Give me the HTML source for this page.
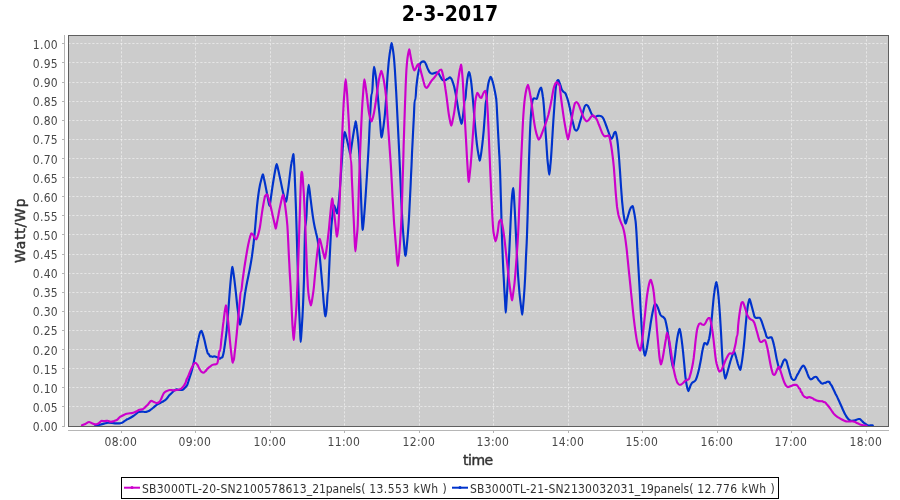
<!DOCTYPE html>
<html><head><meta charset="utf-8"><title>2-3-2017</title>
<style>html,body{margin:0;padding:0;background:#fff;width:900px;height:500px;overflow:hidden}svg{display:block}text{font-family:"DejaVu Sans Condensed","DejaVu Sans","Liberation Sans",sans-serif}.tk{font-size:12px;fill:#484848;letter-spacing:.3px}.lg{font-size:12px;fill:#333;letter-spacing:.23px}.ax{font-family:"DejaVu Sans","Liberation Sans",sans-serif;font-size:14px;fill:#333;stroke:#333;stroke-width:.45px}.tt{font-size:21px;font-weight:bold;fill:#000;letter-spacing:.25px}</style></head><body>
<svg width="900" height="500" viewBox="0 0 900 500">
<rect x="0" y="0" width="900" height="500" fill="#ffffff"/>
<rect x="68" y="35" width="821" height="392" fill="#cccccc"/>
<g stroke="#ffffff" stroke-width="1" stroke-dasharray="2.2,1.8" stroke-dashoffset="-0.3" stroke-opacity="0.5">
<line x1="68" y1="426.5" x2="889" y2="426.5"/>
<line x1="68" y1="406.5" x2="889" y2="406.5"/>
<line x1="68" y1="387.5" x2="889" y2="387.5"/>
<line x1="68" y1="368.5" x2="889" y2="368.5"/>
<line x1="68" y1="349.5" x2="889" y2="349.5"/>
<line x1="68" y1="330.5" x2="889" y2="330.5"/>
<line x1="68" y1="311.5" x2="889" y2="311.5"/>
<line x1="68" y1="292.5" x2="889" y2="292.5"/>
<line x1="68" y1="273.5" x2="889" y2="273.5"/>
<line x1="68" y1="254.5" x2="889" y2="254.5"/>
<line x1="68" y1="234.5" x2="889" y2="234.5"/>
<line x1="68" y1="215.5" x2="889" y2="215.5"/>
<line x1="68" y1="196.5" x2="889" y2="196.5"/>
<line x1="68" y1="177.5" x2="889" y2="177.5"/>
<line x1="68" y1="158.5" x2="889" y2="158.5"/>
<line x1="68" y1="139.5" x2="889" y2="139.5"/>
<line x1="68" y1="120.5" x2="889" y2="120.5"/>
<line x1="68" y1="101.5" x2="889" y2="101.5"/>
<line x1="68" y1="82.5" x2="889" y2="82.5"/>
<line x1="68" y1="62.5" x2="889" y2="62.5"/>
<line x1="68" y1="43.5" x2="889" y2="43.5"/>
<line x1="121.5" y1="35" x2="121.5" y2="427"/>
<line x1="195.5" y1="35" x2="195.5" y2="427"/>
<line x1="270.5" y1="35" x2="270.5" y2="427"/>
<line x1="344.5" y1="35" x2="344.5" y2="427"/>
<line x1="419.5" y1="35" x2="419.5" y2="427"/>
<line x1="493.5" y1="35" x2="493.5" y2="427"/>
<line x1="568.5" y1="35" x2="568.5" y2="427"/>
<line x1="642.5" y1="35" x2="642.5" y2="427"/>
<line x1="717.5" y1="35" x2="717.5" y2="427"/>
<line x1="791.5" y1="35" x2="791.5" y2="427"/>
<line x1="866.5" y1="35" x2="866.5" y2="427"/>
</g>
<clipPath id="cp"><rect x="68" y="35" width="821" height="392"/></clipPath>
<g clip-path="url(#cp)" fill="none" stroke-width="2.15" stroke-linejoin="round" stroke-linecap="round">
<path stroke="#0033cc" d="M95.3,425.7C96.9,425.4 98.4,425.1 100.0,424.7C101.3,424.3 102.7,423.9 104.0,423.6C105.3,423.3 106.7,422.7 108.0,422.7C109.3,422.7 110.7,422.8 112.0,422.9C113.3,423.0 114.7,423.3 116.0,423.3C117.1,423.3 118.2,423.3 119.3,423.3C120.2,423.3 121.1,423.0 122.0,422.7C122.9,422.3 123.8,421.5 124.7,420.9C125.6,420.4 126.4,419.8 127.3,419.3C128.2,418.8 129.1,418.5 130.0,418.0C131.1,417.4 132.2,416.7 133.3,416.0C134.2,415.4 135.1,414.7 136.0,414.0C136.9,413.3 137.8,412.2 138.7,412.0C139.8,411.8 140.9,411.6 142.0,411.6C143.1,411.6 144.2,412.0 145.3,412.0C146.2,412.0 147.1,411.6 148.0,411.3C148.9,411.0 149.8,410.3 150.7,409.7C151.8,409.0 152.9,408.0 154.0,407.1C155.1,406.2 156.2,405.1 157.3,404.4C158.4,403.7 159.6,403.2 160.7,402.7C161.8,402.1 162.9,401.7 164.0,400.9C164.9,400.4 165.8,399.6 166.7,398.7C167.6,397.8 168.4,396.3 169.3,395.3C170.2,394.3 171.1,393.5 172.0,392.7C172.9,391.8 173.8,390.8 174.7,390.3C175.3,389.9 176.0,389.3 176.7,389.3C177.6,389.3 178.4,390.0 179.3,390.0C180.2,390.0 181.1,390.0 182.0,390.0C182.9,390.0 183.8,388.8 184.7,388.0C185.6,387.2 186.4,386.4 187.3,384.7C187.6,384.1 187.9,382.9 188.2,382.0C188.9,379.7 189.7,377.7 190.4,375.3C191.0,373.3 191.7,371.2 192.3,368.7C193.1,365.7 193.8,362.0 194.6,358.3C195.2,355.2 195.9,351.7 196.5,348.3C197.1,345.6 197.6,342.6 198.2,340.0C198.3,339.3 198.4,338.6 198.6,338.0C199.0,336.3 199.4,334.7 199.8,333.3C200.0,332.8 200.1,332.2 200.3,332.0C200.7,331.4 201.1,330.9 201.5,330.9C201.8,330.9 202.1,332.2 202.4,333.0C203.1,334.9 203.8,337.6 204.5,340.3C205.1,342.8 205.8,346.1 206.4,348.7C206.5,348.9 206.5,349.1 206.6,349.3C207.1,351.0 207.5,353.4 208.0,353.7C208.2,353.9 208.4,353.9 208.7,354.0C209.1,354.3 209.6,356.4 210.0,356.4C210.4,356.4 210.9,356.3 211.3,356.3C211.8,356.3 212.2,356.9 212.7,356.9C213.1,356.9 213.6,356.3 214.0,356.3C214.7,356.3 215.3,356.8 216.0,356.9C216.2,357.0 216.4,357.0 216.7,357.1C217.3,357.2 218.0,357.4 218.7,357.7C219.1,357.9 219.6,358.7 220.0,358.7C220.4,358.7 220.9,357.8 221.3,357.6C221.7,357.5 222.0,357.5 222.4,357.3C222.5,357.3 222.7,356.5 222.8,356.0C223.2,354.7 223.6,352.8 224.0,350.7C224.5,347.4 225.1,343.0 225.7,338.3C226.0,335.9 226.4,333.1 226.7,330.0C226.8,328.3 227.0,326.3 227.2,324.3C227.7,318.6 228.2,311.7 228.7,305.3C229.0,300.9 229.4,296.2 229.7,292.0C230.1,287.5 230.4,283.0 230.8,279.3C231.2,275.3 231.6,271.3 232.0,268.7C232.2,267.9 232.3,266.7 232.4,266.7C232.6,266.7 232.8,268.7 233.0,270.0C233.5,273.0 234.0,276.7 234.5,280.7C234.9,284.0 235.4,288.1 235.8,292.0C236.3,296.3 236.7,301.3 237.2,305.3C237.8,310.3 238.3,315.0 238.9,318.7C239.3,321.0 239.6,324.7 240.0,324.7C240.4,324.7 240.8,321.8 241.1,320.0C241.7,317.1 242.4,313.4 243.0,309.3C243.6,305.3 244.2,299.8 244.8,295.3C245.0,294.2 245.1,293.0 245.3,292.0C245.9,288.2 246.5,285.1 247.1,282.0C247.6,279.6 248.0,277.6 248.5,275.3C249.0,272.7 249.6,270.3 250.1,267.3C250.7,264.2 251.3,260.6 251.9,256.7C252.3,253.5 252.8,249.9 253.3,246.0C253.6,243.1 254.0,240.1 254.3,236.7C254.6,233.4 255.0,229.6 255.3,226.0C255.9,219.2 256.5,211.0 257.1,205.3C257.8,199.1 258.5,193.3 259.2,189.3C259.9,184.8 260.7,181.4 261.5,178.7C262.0,177.0 262.4,174.4 262.9,174.4C263.3,174.4 263.7,177.1 264.0,178.7C264.9,182.4 265.8,187.5 266.7,192.0C267.4,195.5 268.0,199.7 268.7,202.7C269.0,203.9 269.3,206.0 269.6,206.0C269.9,206.0 270.3,202.1 270.6,200.0C271.3,195.0 272.1,188.9 272.9,184.0C273.7,178.7 274.6,173.3 275.4,169.3C275.8,167.3 276.2,164.0 276.7,164.0C277.1,164.0 277.6,167.4 278.1,169.3C279.0,172.9 279.8,177.3 280.7,181.3C281.5,185.1 282.3,189.4 283.1,192.7C283.8,195.4 284.5,198.1 285.2,200.0C285.4,200.8 285.7,202.0 286.0,202.0C286.3,202.0 286.5,200.0 286.8,198.7C287.3,195.7 287.9,190.9 288.5,186.7C289.4,179.7 290.4,169.7 291.3,164.0C291.5,162.4 291.8,161.2 292.1,160.0C292.3,159.0 292.5,158.3 292.7,157.3C292.9,156.3 293.1,154.0 293.3,154.0C293.4,154.0 293.4,154.4 293.5,154.7C293.7,156.1 293.9,160.6 294.2,164.7C294.8,175.2 295.4,192.9 296.0,209.7C296.2,216.7 296.4,224.7 296.7,232.7C297.2,249.4 297.7,269.3 298.3,285.5C298.5,292.2 298.7,298.7 298.9,304.3C299.3,314.5 299.7,323.5 300.1,331.3C300.3,335.3 300.5,342.0 300.7,342.0C300.9,342.0 301.2,335.7 301.5,332.0C301.8,327.3 302.1,322.1 302.5,316.0C302.8,310.3 303.1,304.2 303.4,296.0C303.6,291.4 303.8,285.7 304.0,279.0C304.2,268.6 304.5,252.5 304.8,239.3C304.9,234.9 305.0,226.0 305.1,226.0C305.3,226.0 305.5,226.0 305.7,226.0C306.3,226.0 306.8,205.5 307.3,198.7C307.8,192.9 308.2,184.7 308.7,184.7C309.2,184.7 309.8,193.1 310.4,197.3C311.2,203.9 312.1,211.7 313.0,217.3C313.5,220.6 314.0,223.6 314.5,226.0C315.0,228.6 315.5,230.3 316.0,232.7C316.5,234.8 317.0,236.7 317.5,239.3C318.1,242.8 318.7,247.4 319.3,252.7C319.9,257.4 320.5,263.9 321.0,270.0C321.5,275.1 321.9,280.4 322.4,286.0C322.6,287.9 322.7,290.0 322.9,292.0C323.2,295.5 323.4,299.6 323.7,302.7C324.1,306.7 324.5,310.8 324.8,313.3C325.0,314.5 325.2,316.3 325.3,316.3C325.5,316.3 325.6,315.8 325.7,315.3C326.1,314.0 326.5,309.9 326.9,305.3C327.2,302.3 327.5,292.0 327.7,292.0C327.9,292.0 328.1,292.0 328.3,292.0C328.4,292.0 328.6,283.3 328.7,279.3C329.0,272.2 329.3,265.5 329.6,259.3C330.1,249.7 330.5,240.1 331.0,232.7C331.1,230.2 331.3,227.8 331.4,226.0C331.9,220.1 332.4,215.5 332.9,212.0C333.3,209.3 333.6,205.3 334.0,205.3C334.5,205.3 335.1,208.0 335.6,209.3C336.1,210.6 336.6,213.3 337.1,213.3C337.3,213.3 337.6,211.0 337.8,209.3C338.3,206.4 338.7,202.0 339.2,197.3C339.7,191.9 340.2,184.5 340.7,177.3C341.1,171.9 341.5,165.7 341.9,160.0C342.2,155.7 342.5,150.8 342.8,147.3C343.2,142.5 343.6,138.0 344.0,135.3C344.2,133.9 344.4,132.0 344.7,132.0C344.8,132.0 345.0,132.5 345.1,132.9C345.8,134.6 346.5,137.9 347.2,140.7C347.9,143.5 348.6,147.1 349.3,150.0C349.6,151.4 349.9,154.0 350.3,154.0C350.6,154.0 351.0,149.6 351.4,147.3C352.1,143.1 352.7,138.2 353.4,134.0C353.9,130.7 354.5,127.3 355.0,124.7C355.2,123.4 355.5,121.3 355.7,121.3C356.0,121.3 356.3,124.2 356.5,126.0C357.0,128.9 357.4,132.5 357.8,136.7C358.2,140.4 358.6,144.5 359.0,150.0C359.2,152.7 359.4,156.2 359.6,160.0C360.5,177.6 361.4,213.3 362.3,226.0C362.4,227.7 362.5,230.0 362.7,230.0C362.9,230.0 363.0,227.6 363.2,226.0C364.8,212.4 366.3,184.7 367.9,160.0C368.1,156.1 368.4,151.9 368.6,147.3C368.9,142.9 369.1,137.7 369.3,132.7C369.6,126.6 369.9,119.7 370.2,114.0C370.5,108.9 370.7,103.8 371.0,100.0C371.1,97.7 371.3,94.0 371.5,94.0C371.6,94.0 371.8,94.0 372.0,94.0C372.4,94.0 372.8,79.1 373.3,74.0C373.5,71.1 373.8,66.7 374.0,66.7C374.3,66.7 374.5,68.7 374.8,70.0C375.3,72.3 375.7,75.6 376.2,79.3C376.6,82.6 377.0,87.1 377.4,91.3C377.5,93.1 377.7,95.2 377.9,97.0C378.2,100.6 378.5,103.9 378.8,107.3C379.0,109.3 379.2,111.2 379.4,113.3C379.6,115.6 379.8,118.2 380.0,120.7C380.3,124.5 380.6,129.2 380.9,132.7C381.0,134.4 381.2,137.3 381.3,137.3C381.5,137.3 381.6,137.3 381.7,137.3C382.1,137.3 382.5,132.9 382.9,130.3C383.4,127.5 383.8,124.4 384.2,120.7C384.5,118.6 384.7,116.1 385.0,113.3C385.2,110.5 385.5,107.1 385.7,103.7C386.0,100.6 386.2,97.2 386.4,93.8C386.9,86.9 387.3,78.7 387.8,72.7C388.2,67.6 388.6,62.8 389.0,59.3C389.5,54.9 390.0,51.5 390.5,48.7C390.8,46.5 391.2,43.1 391.6,43.1C391.8,43.1 392.1,44.8 392.3,46.0C392.8,48.2 393.2,51.3 393.7,55.3C394.1,58.9 394.5,64.3 394.9,70.0C395.3,76.2 395.7,84.4 396.2,92.3C396.5,97.9 396.8,104.0 397.1,110.0C397.7,121.1 398.2,132.3 398.8,144.0C399.1,151.1 399.5,158.4 399.8,166.0C400.1,172.4 400.4,179.5 400.7,186.0C401.1,196.2 401.6,207.7 402.1,216.0C402.2,218.7 402.4,221.1 402.5,223.3C402.7,226.5 402.9,229.1 403.1,232.0C403.3,234.5 403.5,237.1 403.7,239.3C404.1,244.2 404.5,249.4 404.9,252.7C405.0,254.0 405.2,256.0 405.3,256.0C405.5,256.0 405.7,254.9 405.9,254.0C406.4,251.0 407.0,243.8 407.6,237.0C408.0,232.1 408.5,226.0 408.9,219.3C409.0,217.7 409.1,215.9 409.2,214.0C409.7,204.8 410.2,194.0 410.7,183.3C410.9,177.7 411.2,171.7 411.5,166.0C411.7,161.8 411.8,157.4 412.0,153.3C412.4,146.4 412.7,139.9 413.0,133.3C413.3,127.5 413.6,121.9 413.9,116.0C414.2,110.8 414.4,100.0 414.7,100.0C414.9,100.0 415.1,100.0 415.3,100.0C415.7,100.0 416.0,90.8 416.3,87.3C416.8,83.1 417.2,79.5 417.6,76.7C418.1,73.4 418.6,70.9 419.1,68.7C419.5,66.6 420.0,64.1 420.4,63.3C420.9,62.5 421.5,61.9 422.0,61.7C422.7,61.5 423.3,61.3 424.0,61.3C424.6,61.3 425.2,62.6 425.7,63.6C426.5,64.9 427.2,67.8 428.0,69.3C428.7,70.7 429.3,72.1 430.0,72.7C430.7,73.2 431.3,73.7 432.0,73.7C432.9,73.7 433.8,73.2 434.7,72.9C435.3,72.7 436.0,72.3 436.7,72.3C437.2,72.3 437.7,72.6 438.3,72.9C438.8,73.3 439.4,75.0 440.0,76.0C440.5,76.9 441.1,77.8 441.6,78.7C441.7,78.9 441.9,79.2 442.0,79.3C442.4,79.8 442.9,80.1 443.3,80.3C443.6,80.3 443.8,80.4 444.0,80.4C444.4,80.4 444.9,80.0 445.3,80.0C445.6,80.0 445.8,80.0 446.0,80.0C446.4,80.0 446.9,78.7 447.3,78.7C447.6,78.7 447.8,78.7 448.0,78.7C448.4,78.7 448.9,78.0 449.3,77.7C449.6,77.6 449.8,77.3 450.0,77.3C450.4,77.3 450.9,78.0 451.3,78.7C451.7,79.2 452.1,80.3 452.5,81.3C453.1,82.8 453.6,84.5 454.2,86.7C454.6,88.5 455.1,90.9 455.6,93.3C456.0,95.3 456.3,97.7 456.7,100.0C457.2,102.6 457.6,105.5 458.0,108.0C458.5,110.8 459.0,113.7 459.5,116.0C460.0,118.5 460.6,121.0 461.1,122.7C461.3,123.2 461.4,124.0 461.6,124.0C461.8,124.0 462.0,122.4 462.2,121.3C462.7,118.7 463.1,114.8 463.6,110.7C464.0,107.6 464.3,100.0 464.7,100.0C464.9,100.0 465.1,100.0 465.3,100.0C465.6,100.0 465.8,93.9 466.0,91.3C466.5,86.7 466.9,82.2 467.3,79.3C467.8,76.5 468.2,73.7 468.7,72.7C468.8,72.4 468.9,72.0 469.1,72.0C469.3,72.0 469.5,73.1 469.8,74.0C470.2,75.5 470.6,77.9 471.0,80.7C471.5,84.1 472.0,89.6 472.5,95.0C472.8,98.1 473.1,101.8 473.4,105.3C473.9,111.0 474.3,117.3 474.8,122.7C475.3,127.9 475.7,133.1 476.2,137.3C476.6,141.9 477.1,146.0 477.6,149.3C478.1,152.4 478.5,155.1 479.0,157.3C479.2,158.6 479.5,160.7 479.7,160.7C480.0,160.7 480.2,158.7 480.5,157.3C481.1,154.4 481.6,150.0 482.2,145.3C482.7,141.3 483.2,136.1 483.7,130.7C484.1,125.9 484.5,120.3 484.9,114.7C485.3,110.1 485.6,100.0 486.0,100.0C486.1,100.0 486.3,100.0 486.4,100.0C486.7,100.0 486.9,93.6 487.2,91.3C487.6,88.1 488.0,85.2 488.4,83.3C488.8,81.3 489.2,79.7 489.7,78.7C490.0,77.9 490.3,76.9 490.7,76.9C491.0,76.9 491.3,77.9 491.7,78.7C492.2,79.7 492.7,81.5 493.1,83.3C493.6,85.1 494.1,87.6 494.6,90.0C495.1,92.6 495.6,94.8 496.1,98.3C496.2,98.8 496.3,99.3 496.3,100.0C496.6,102.7 496.9,108.6 497.1,113.3C497.4,118.7 497.7,125.1 498.0,130.7C498.4,138.5 498.8,146.0 499.2,153.3C499.4,155.7 499.5,157.7 499.6,160.3C499.8,164.4 500.0,169.0 500.2,174.7C500.6,185.4 501.0,203.4 501.4,217.0C501.5,222.3 501.7,227.7 501.8,232.3C502.2,242.2 502.5,250.9 502.8,258.7C503.0,263.6 503.2,267.9 503.4,272.0C503.7,277.6 504.0,282.4 504.2,287.3C504.5,292.4 504.8,297.2 505.1,302.0C505.3,305.6 505.5,312.7 505.7,312.7C506.0,312.7 506.2,305.6 506.5,302.0C506.8,297.2 507.1,292.4 507.4,287.3C507.8,281.6 508.1,275.9 508.5,269.3C508.8,263.3 509.1,256.5 509.4,249.3C509.8,241.7 510.1,231.7 510.5,224.3C510.9,215.0 511.4,204.6 511.8,199.3C512.1,195.2 512.5,191.8 512.8,190.0C513.0,189.1 513.2,188.0 513.3,188.0C513.5,188.0 513.7,192.6 513.9,195.3C514.4,202.1 514.8,211.4 515.3,220.3C515.5,225.3 515.8,231.1 516.0,236.3C516.6,247.2 517.1,259.0 517.6,268.0C518.0,274.8 518.5,281.0 518.9,286.0C519.3,291.8 519.8,296.6 520.3,300.7C520.7,304.3 521.1,307.3 521.5,310.0C521.7,311.7 522.0,314.7 522.3,314.7C522.5,314.7 522.8,310.1 523.0,307.3C523.5,302.8 523.9,297.7 524.3,291.3C524.6,287.6 524.8,283.0 525.1,278.0C525.4,272.4 525.7,265.0 525.9,258.7C526.2,253.2 526.4,248.3 526.7,242.7C526.8,239.3 527.0,236.1 527.1,232.0C527.3,226.7 527.5,219.7 527.7,212.7C528.0,202.7 528.2,189.6 528.5,179.3C528.7,172.6 528.8,165.9 529.0,160.3C529.5,146.2 529.9,132.5 530.4,124.0C530.7,118.4 531.0,113.9 531.3,110.7C531.6,106.6 532.0,103.4 532.4,101.3C532.5,100.8 532.6,100.2 532.7,100.0C533.1,99.0 533.5,98.3 533.9,98.3C534.4,98.3 534.8,98.4 535.3,98.5C535.6,98.5 536.0,98.6 536.3,98.7C536.5,98.7 536.7,98.9 536.9,98.9C537.1,98.9 537.3,97.4 537.5,96.7C537.8,95.6 538.1,94.6 538.4,93.7C538.9,92.1 539.4,89.8 539.9,89.0C540.3,88.3 540.7,87.5 541.1,87.5C541.3,87.5 541.4,88.6 541.6,89.3C542.1,91.1 542.5,93.9 542.9,97.0C543.1,97.9 543.2,98.8 543.3,100.0C543.5,101.8 543.7,104.2 543.9,106.7C544.4,113.6 545.0,122.5 545.5,130.7C545.9,135.9 546.2,141.6 546.6,146.7C546.9,151.3 547.2,156.4 547.5,160.0C547.7,162.3 547.9,164.2 548.2,166.0C548.5,169.3 548.9,174.7 549.3,174.7C549.7,174.7 550.1,168.0 550.5,164.0C550.7,162.3 550.8,160.5 551.0,158.3C551.5,151.8 552.0,142.6 552.5,134.7C552.8,129.8 553.1,124.7 553.4,120.0C553.8,113.9 554.2,108.0 554.6,102.7C554.7,100.4 554.9,98.3 555.1,96.3C555.3,92.9 555.6,88.9 555.9,86.7C556.0,86.4 556.0,86.2 556.0,86.0C556.4,84.0 556.8,82.6 557.1,81.3C557.2,81.1 557.3,80.8 557.3,80.7C557.6,80.3 557.8,80.0 558.0,80.0C558.1,80.0 558.3,80.0 558.4,80.0C558.7,80.0 558.9,81.3 559.2,82.0C559.7,83.3 560.2,84.6 560.6,86.0C561.1,87.3 561.5,89.2 562.0,90.0C562.6,91.0 563.2,91.4 563.7,92.0C564.3,92.5 564.8,92.7 565.3,93.3C565.7,93.8 566.1,95.0 566.5,96.0C567.0,97.5 567.6,99.3 568.2,101.3C568.5,102.5 568.9,103.9 569.2,105.3C569.7,107.4 570.2,109.7 570.6,112.0C571.1,114.2 571.6,116.6 572.0,118.7C572.6,121.0 573.1,123.3 573.6,125.3C573.9,126.8 574.3,128.8 574.7,129.3C575.2,130.1 575.7,130.7 576.3,130.7C576.8,130.7 577.4,129.7 578.0,128.7C578.5,127.8 579.0,125.6 579.4,124.0C580.1,121.8 580.8,119.5 581.4,117.3C582.1,115.1 582.8,112.8 583.4,110.7C583.9,109.1 584.4,106.7 584.9,106.0C585.4,105.3 585.9,104.7 586.4,104.7C586.9,104.7 587.5,105.4 588.0,106.0C588.5,106.6 589.1,108.2 589.6,109.3C590.2,110.6 590.8,112.2 591.3,113.3C591.9,114.4 592.4,115.6 592.9,116.0C593.6,116.5 594.3,117.1 594.9,117.1C595.6,117.1 596.4,116.1 597.1,116.0C597.8,115.9 598.6,115.7 599.3,115.7C600.0,115.7 600.7,116.0 601.3,116.3C602.0,116.6 602.7,117.4 603.3,118.4C603.9,119.3 604.5,121.2 605.1,122.7C605.8,124.6 606.6,126.6 607.3,128.7C607.9,130.4 608.6,132.3 609.2,134.0C609.7,135.4 610.2,137.5 610.7,138.0C611.0,138.3 611.4,138.7 611.7,138.7C612.2,138.7 612.6,137.0 613.1,136.0C613.5,135.0 614.0,133.2 614.4,132.7C614.8,132.2 615.1,131.7 615.5,131.7C615.7,131.7 615.9,133.1 616.2,134.0C616.6,135.5 616.9,137.5 617.3,140.0C617.6,142.3 618.0,145.7 618.3,149.3C618.6,152.4 618.9,156.2 619.2,160.0C619.4,163.0 619.6,166.4 619.9,169.7C620.3,175.6 620.7,182.3 621.1,188.0C621.5,192.7 621.8,197.6 622.1,201.3C622.6,206.0 623.0,210.3 623.4,213.3C623.9,216.4 624.3,218.8 624.7,220.7C625.0,221.9 625.3,223.7 625.6,223.7C626.0,223.7 626.4,221.3 626.8,220.0C627.5,217.9 628.2,215.5 628.8,213.3C629.3,211.8 629.8,209.6 630.3,208.7C630.7,207.8 631.2,207.1 631.6,206.7C632.0,206.4 632.3,206.0 632.7,206.0C632.9,206.0 633.1,207.6 633.4,208.7C633.8,210.3 634.2,212.4 634.6,214.7C634.9,216.6 635.2,218.6 635.6,221.3C635.7,222.6 635.9,224.1 636.0,226.0C636.2,228.7 636.5,232.8 636.7,236.7C636.9,240.3 637.1,244.7 637.3,248.7C637.6,252.7 637.8,256.8 638.0,260.7C638.2,264.8 638.5,268.7 638.7,272.7C638.9,276.2 639.1,279.6 639.3,283.3C639.5,286.1 639.6,289.0 639.8,292.0C640.0,296.2 640.2,301.0 640.4,305.3C640.7,310.8 641.0,316.6 641.3,321.3C641.6,326.7 641.9,332.1 642.2,336.0C642.6,340.9 642.9,345.2 643.3,348.0C643.7,350.6 644.0,352.6 644.4,354.0C644.6,354.7 644.8,355.7 644.9,355.7C645.2,355.7 645.4,354.3 645.7,353.3C646.1,351.9 646.5,350.0 646.9,348.0C647.3,345.7 647.8,342.8 648.2,340.0C648.7,337.1 649.1,333.8 649.6,330.7C650.1,327.5 650.5,324.2 651.0,321.3C651.5,318.2 652.0,315.1 652.5,312.7C653.1,310.1 653.6,307.7 654.1,306.0C654.4,305.2 654.7,304.0 654.9,304.0C655.4,304.0 655.8,304.3 656.3,304.7C656.8,305.0 657.2,306.3 657.7,307.3C658.2,308.4 658.7,310.0 659.2,311.3C659.6,312.5 660.0,314.0 660.4,314.7C660.9,315.5 661.5,316.0 662.0,316.4C662.5,316.8 663.1,316.9 663.6,317.3C664.1,317.7 664.6,318.3 665.1,319.3C665.4,320.0 665.7,321.9 666.1,323.3C666.4,324.9 666.8,326.6 667.2,328.7C667.5,330.8 667.9,333.3 668.3,336.0C668.6,338.4 669.0,341.3 669.3,344.0C669.8,347.6 670.2,351.6 670.7,355.0C670.8,356.1 671.0,357.1 671.1,358.0C671.5,360.3 671.8,362.3 672.2,364.0C672.5,365.4 672.8,367.6 673.1,367.6C673.5,367.6 673.9,363.2 674.3,360.7C674.6,358.7 674.9,356.6 675.2,354.3C675.6,350.7 676.1,346.1 676.6,342.7C677.0,339.7 677.5,336.7 677.9,334.7C678.3,332.8 678.7,331.1 679.0,330.0C679.2,329.5 679.4,328.7 679.6,328.7C679.8,328.7 680.0,330.3 680.3,331.3C680.7,333.2 681.1,335.9 681.5,338.7C682.0,342.5 682.6,347.4 683.1,352.3C683.2,352.7 683.2,353.0 683.2,353.3C683.5,356.2 683.8,359.6 684.1,362.7C684.6,367.4 685.0,373.0 685.4,376.7C685.8,379.9 686.2,382.7 686.6,384.7C686.9,386.7 687.3,388.2 687.7,389.3C687.9,390.0 688.2,391.1 688.4,391.1C688.7,391.1 689.1,389.5 689.4,388.7C689.9,387.4 690.4,385.6 690.9,384.7C691.4,383.8 691.8,383.0 692.3,382.7C692.8,382.2 693.4,382.1 694.0,381.7C694.6,381.3 695.2,380.9 695.7,380.0C696.1,379.4 696.6,377.9 697.0,376.7C697.5,375.1 698.0,373.3 698.5,371.3C699.0,369.4 699.5,367.1 699.9,364.7C700.4,362.6 700.8,360.3 701.2,358.0C701.6,355.6 702.0,352.8 702.4,350.7C702.9,348.4 703.4,346.1 703.8,344.7C704.0,344.0 704.2,343.1 704.4,343.1C704.8,343.1 705.3,343.2 705.7,343.3C706.2,343.5 706.6,344.7 707.1,344.7C707.3,344.7 707.5,343.9 707.7,343.3C708.2,342.1 708.6,340.6 709.1,338.7C709.3,337.8 709.5,336.9 709.7,335.7C710.1,333.5 710.5,330.5 710.9,327.3C711.2,324.3 711.6,320.5 711.9,316.7C712.3,312.9 712.6,308.3 713.0,304.7C713.4,300.3 713.8,295.8 714.3,292.7C714.7,289.4 715.1,286.6 715.6,284.7C715.8,283.6 716.0,282.0 716.3,282.0C716.4,282.0 716.6,282.7 716.7,283.3C717.1,284.9 717.6,288.0 718.0,291.3C718.4,294.9 718.9,300.4 719.3,306.0C719.6,310.2 720.0,315.3 720.3,320.7C720.6,325.3 720.9,330.8 721.2,336.0C721.6,343.2 722.0,352.6 722.4,358.0C722.6,361.3 722.9,364.0 723.1,366.0C723.5,369.4 723.9,371.8 724.3,374.0C724.7,375.8 725.0,378.7 725.3,378.7C725.7,378.7 726.0,377.0 726.3,376.0C726.9,374.2 727.4,372.1 728.0,370.0C728.5,368.3 729.0,366.4 729.4,364.7C729.9,363.1 730.3,361.5 730.8,360.0C730.9,359.5 731.1,359.1 731.2,358.7C731.8,356.8 732.5,354.9 733.1,353.3C733.4,352.6 733.7,351.3 734.0,351.3C734.3,351.3 734.6,352.6 734.9,353.3C735.4,354.8 736.0,356.7 736.5,358.7C736.9,360.1 737.3,361.9 737.7,363.3C737.8,363.6 737.9,363.8 737.9,364.0C738.3,365.2 738.7,366.3 739.1,367.3C739.2,367.6 739.2,367.8 739.3,368.0C739.7,368.7 740.0,369.9 740.3,369.9C740.7,369.9 741.0,367.1 741.3,365.3C741.8,362.8 742.3,359.6 742.7,356.0C743.1,353.0 743.5,349.3 743.9,345.3C744.2,342.5 744.5,339.2 744.8,336.0C745.1,332.8 745.3,329.2 745.6,326.0C746.0,322.3 746.3,318.4 746.6,315.3C747.1,311.2 747.6,307.1 748.0,304.7C748.4,302.7 748.8,301.0 749.1,300.0C749.3,299.6 749.4,299.1 749.6,299.1C749.9,299.1 750.1,300.5 750.4,301.3C750.9,303.1 751.4,305.3 752.0,307.3C752.5,309.3 753.1,311.5 753.6,313.3C753.9,314.6 754.3,316.5 754.7,316.9C755.2,317.6 755.7,318.0 756.3,318.0C756.8,318.0 757.4,317.7 758.0,317.7C758.5,317.7 759.1,317.7 759.6,317.7C760.0,317.7 760.5,318.8 760.9,319.6C761.4,320.4 761.8,322.1 762.3,323.3C762.9,325.1 763.5,326.9 764.0,328.7C764.6,330.2 765.1,331.8 765.6,333.3C765.9,334.5 766.3,336.4 766.7,336.8C767.2,337.5 767.8,338.0 768.4,338.0C768.9,338.0 769.5,337.3 770.0,337.3C770.5,337.3 771.1,337.3 771.6,337.3C771.9,337.3 772.1,338.5 772.4,339.3C773.0,340.9 773.5,343.0 774.0,345.3C774.6,347.6 775.1,350.7 775.6,353.3C776.1,356.0 776.6,359.1 777.2,361.3C777.7,363.6 778.2,365.8 778.8,367.3C779.1,368.1 779.3,369.3 779.6,369.3C780.0,369.3 780.5,368.2 780.9,367.3C781.4,366.5 781.8,365.1 782.3,364.0C782.7,362.9 783.2,361.3 783.6,360.7C784.0,360.0 784.5,359.3 784.9,359.3C785.4,359.3 785.8,360.0 786.3,360.7C786.7,361.3 787.1,363.3 787.5,364.7C788.0,366.4 788.5,368.3 789.0,370.0C789.5,371.8 790.0,373.7 790.5,375.3C790.9,376.4 791.2,377.9 791.6,378.4C792.2,379.2 792.8,380.0 793.3,380.0C793.9,380.0 794.5,379.7 795.1,379.3C795.6,379.0 796.1,377.0 796.7,376.0C797.2,375.0 797.7,374.3 798.3,373.3C798.8,372.3 799.4,371.0 800.0,370.0C800.5,369.0 801.1,368.1 801.6,367.3C802.1,366.7 802.6,365.6 803.1,365.6C803.5,365.6 804.0,366.0 804.4,366.4C804.8,366.8 805.3,368.3 805.7,369.3C806.3,370.6 806.8,372.0 807.3,373.3C807.9,374.7 808.4,376.5 808.9,377.3C809.5,378.3 810.1,379.3 810.7,379.3C811.2,379.3 811.8,379.0 812.4,378.7C812.9,378.4 813.5,377.6 814.0,377.3C814.6,377.0 815.2,376.7 815.7,376.7C816.3,376.7 816.8,377.4 817.3,378.0C817.7,378.4 818.1,379.5 818.5,380.0C818.7,380.3 818.9,380.5 819.1,380.7C819.5,381.2 820.0,381.5 820.5,382.2C820.6,382.4 820.8,382.8 820.9,382.9C821.6,383.3 822.2,383.6 822.8,383.6C823.4,383.6 824.1,382.7 824.7,382.7C824.9,382.7 825.2,382.8 825.5,382.8C825.9,382.8 826.3,382.2 826.7,382.0C827.1,381.8 827.6,381.5 828.0,381.5C828.1,381.5 828.3,381.7 828.4,381.7C828.8,381.9 829.1,381.8 829.5,382.0C829.7,382.1 829.8,383.0 830.0,383.3C830.5,384.3 831.0,384.6 831.5,385.4C832.2,386.5 832.8,388.0 833.4,389.2C834.1,390.6 834.8,392.1 835.4,393.5C836.1,394.9 836.8,396.0 837.4,397.4C838.1,398.9 838.8,400.5 839.5,402.0C840.2,403.5 840.8,405.0 841.5,406.5C842.2,408.0 842.8,409.6 843.5,411.0C844.2,412.4 844.8,413.9 845.5,415.0C846.2,416.1 846.8,417.2 847.5,418.0C848.2,418.8 848.8,419.6 849.5,420.0C850.2,420.4 850.8,420.8 851.5,420.8C852.3,420.8 853.2,420.6 854.0,420.5C854.8,420.4 855.7,420.1 856.5,419.8C857.2,419.6 857.8,419.0 858.5,419.0C858.9,419.0 859.4,419.0 859.8,419.0C860.4,419.0 860.9,420.0 861.5,420.5C862.2,421.1 862.8,421.9 863.5,422.5C864.2,423.1 864.8,423.6 865.5,424.0C866.2,424.4 866.8,425.0 867.5,425.2C868.2,425.4 868.8,425.5 869.5,425.5C870.2,425.5 870.8,425.2 871.5,425.2C871.9,425.2 872.4,425.4 872.8,425.5"/>
<path stroke="#cc00cc" d="M82.0,425.3C83.1,424.9 84.2,424.5 85.3,424.0C86.6,423.4 87.8,422.0 89.1,422.0C90.0,422.0 91.0,423.0 92.0,423.3C93.1,423.8 94.2,424.4 95.3,424.4C96.4,424.4 97.6,423.8 98.7,423.3C99.6,422.9 100.6,420.9 101.6,420.9C102.6,420.9 103.6,421.1 104.7,421.1C105.6,421.1 106.6,420.7 107.6,420.7C108.6,420.7 109.6,421.7 110.7,421.7C111.8,421.7 112.9,421.4 114.0,421.1C114.9,420.8 115.8,420.5 116.7,420.0C117.8,419.4 118.9,417.6 120.0,416.9C121.1,416.2 122.2,415.9 123.3,415.3C124.4,414.8 125.6,413.9 126.7,413.7C127.8,413.5 128.9,413.5 130.0,413.3C131.1,413.2 132.2,413.0 133.3,412.7C134.4,412.4 135.6,411.9 136.7,411.3C137.6,410.9 138.4,409.9 139.3,409.7C140.4,409.5 141.4,409.6 142.4,409.3C143.4,409.1 144.4,407.9 145.3,407.1C146.2,406.3 147.1,405.3 148.0,404.4C149.1,403.3 150.2,400.9 151.3,400.9C152.2,400.9 153.1,401.6 154.0,402.0C154.9,402.4 155.8,403.1 156.7,403.1C157.6,403.1 158.4,402.6 159.3,402.0C160.0,401.6 160.7,399.9 161.3,398.7C162.1,397.1 162.9,394.3 163.7,393.3C164.7,392.2 165.7,391.5 166.7,391.1C167.8,390.6 168.9,390.0 170.0,390.0C171.1,390.0 172.2,390.3 173.3,390.3C174.4,390.3 175.6,390.1 176.7,390.0C177.8,389.9 178.9,389.7 180.0,389.3C180.9,389.0 181.8,388.2 182.7,387.3C183.6,386.4 184.4,385.2 185.3,383.3C185.8,382.4 186.2,380.4 186.7,379.3C187.1,378.3 187.6,377.7 188.0,376.7C188.4,375.7 188.9,374.4 189.3,373.3C190.2,371.2 191.1,369.1 192.0,367.3C192.7,366.0 193.3,364.2 194.0,363.6C194.5,363.1 195.1,362.7 195.6,362.7C196.2,362.7 196.8,363.8 197.3,364.7C198.0,365.6 198.7,367.5 199.3,368.7C200.0,369.8 200.7,371.1 201.3,371.6C202.0,372.1 202.7,372.7 203.3,372.7C204.0,372.7 204.7,371.9 205.3,371.3C206.0,370.8 206.7,369.6 207.3,368.9C208.2,368.0 209.1,367.4 210.0,366.7C210.9,366.0 211.8,364.8 212.7,364.7C213.6,364.5 214.4,364.6 215.3,364.4C216.0,364.3 216.7,364.1 217.3,363.3C217.6,363.0 217.9,360.8 218.2,359.3C218.2,358.9 218.3,358.5 218.4,358.0C218.7,356.0 219.0,350.7 219.3,350.7C219.6,350.7 219.8,351.3 220.0,351.3C220.5,351.3 221.0,342.1 221.6,337.7C221.9,335.1 222.2,332.5 222.5,330.0C222.8,327.2 223.1,324.3 223.5,321.7C224.1,316.5 224.8,310.6 225.5,307.3C225.7,306.5 225.8,305.3 226.0,305.3C226.2,305.3 226.4,307.8 226.7,309.3C227.2,313.0 227.7,317.7 228.3,322.7C228.4,323.7 228.5,324.9 228.6,326.0C229.0,330.5 229.5,335.9 229.9,340.3C230.3,344.7 230.8,349.1 231.2,352.7C231.4,354.4 231.6,355.9 231.8,357.3C232.1,359.3 232.4,362.7 232.7,362.7C232.8,362.7 233.0,360.7 233.2,360.7C233.4,360.7 233.6,360.7 233.7,360.7C234.0,360.7 234.3,356.2 234.6,353.7C235.1,349.8 235.6,345.5 236.0,341.0C236.5,336.4 237.0,331.3 237.4,326.3C237.9,321.6 238.3,316.7 238.8,312.0C239.2,308.0 239.5,304.0 239.9,300.0C240.2,297.4 240.4,292.0 240.7,292.0C240.8,292.0 240.9,292.0 241.1,292.0C241.6,292.0 242.1,283.3 242.7,279.3C243.2,275.6 243.7,272.1 244.2,268.7C244.8,264.5 245.5,260.4 246.1,256.7C246.8,252.4 247.5,248.1 248.2,244.7C248.9,241.6 249.5,238.8 250.2,236.7C250.6,235.4 250.9,233.3 251.3,233.3C251.9,233.3 252.5,234.0 253.1,234.7C253.6,235.3 254.1,237.4 254.7,238.0C255.2,238.7 255.8,239.3 256.4,239.3C256.7,239.3 257.0,238.1 257.3,237.3C258.0,235.3 258.8,232.7 259.5,229.3C259.7,228.4 259.9,227.2 260.1,226.0C260.7,222.5 261.3,217.1 261.9,213.3C262.5,209.1 263.2,205.2 263.8,202.0C264.3,199.6 264.8,196.4 265.3,195.7C265.9,195.0 266.5,194.4 267.1,194.4C267.4,194.4 267.7,195.8 268.0,196.7C268.8,198.9 269.6,202.1 270.4,205.3C271.2,208.5 272.0,212.4 272.8,216.0C273.5,218.9 274.1,221.9 274.8,224.7C275.1,226.0 275.4,228.7 275.7,228.7C276.1,228.7 276.4,225.6 276.7,224.0C277.7,219.4 278.6,213.9 279.5,209.3C280.3,205.6 281.0,201.7 281.8,198.7C282.2,197.2 282.6,194.7 282.9,194.7C283.2,194.7 283.4,196.2 283.7,197.3C284.7,201.7 285.7,209.4 286.7,218.3C286.9,220.4 287.1,222.9 287.4,226.0C287.7,230.3 288.0,237.3 288.3,243.3C288.6,249.6 288.9,257.0 289.3,263.3C289.5,266.9 289.6,270.3 289.8,273.7C290.1,278.2 290.3,282.4 290.6,287.0C290.7,289.9 290.9,292.9 291.0,296.0C291.3,301.1 291.5,307.0 291.8,312.0C292.0,316.7 292.3,321.6 292.5,325.3C292.7,327.9 292.8,329.9 293.0,332.0C293.2,334.9 293.4,340.0 293.7,340.0C293.9,340.0 294.1,335.3 294.4,332.7C294.9,327.2 295.4,320.8 295.9,314.0C296.1,310.5 296.4,307.0 296.6,302.7C296.8,299.5 297.0,296.0 297.1,292.0C297.5,284.8 297.8,275.5 298.1,266.0C298.3,259.9 298.5,252.8 298.8,246.0C298.9,241.6 299.0,237.0 299.2,232.7C299.3,228.2 299.4,223.6 299.6,219.7C300.2,202.3 300.8,177.7 301.4,173.3C301.5,172.6 301.6,171.7 301.7,171.7C301.9,171.7 302.0,172.6 302.2,173.3C302.7,176.2 303.2,185.0 303.8,193.3C304.2,200.1 304.6,209.6 305.1,219.7C305.3,225.4 305.6,232.9 305.8,239.3C306.4,253.0 306.9,269.8 307.5,279.3C307.7,284.6 308.0,289.1 308.3,292.0C308.6,294.9 308.9,297.0 309.2,298.7C309.6,300.6 309.9,302.1 310.3,303.3C310.5,304.1 310.7,305.3 310.9,305.3C311.2,305.3 311.4,303.7 311.6,302.7C312.0,300.9 312.3,298.5 312.7,296.0C312.9,294.8 313.1,293.5 313.3,292.0C313.5,290.5 313.7,288.8 313.9,287.0C314.4,281.5 315.0,274.6 315.6,268.7C316.2,263.2 316.7,257.1 317.3,252.7C317.8,248.5 318.3,244.7 318.8,242.0C319.1,240.7 319.3,238.7 319.6,238.7C319.9,238.7 320.2,240.3 320.5,241.3C321.1,243.4 321.7,246.2 322.3,248.7C322.9,251.1 323.5,253.9 324.1,256.0C324.4,257.0 324.7,258.7 324.9,258.7C325.1,258.7 325.3,257.1 325.5,256.0C326.1,253.2 326.6,248.8 327.2,244.7C327.7,240.1 328.3,235.0 328.9,229.3C329.0,228.3 329.1,227.1 329.2,226.0C329.6,222.0 330.0,217.0 330.4,213.3C330.8,208.8 331.3,204.3 331.7,201.3C331.9,200.2 332.1,198.4 332.3,198.4C332.5,198.4 332.7,201.1 332.9,202.7C333.6,207.9 334.3,214.9 335.1,221.0C335.4,223.8 335.7,226.6 336.0,229.3C336.3,231.8 336.6,236.7 336.9,236.7C337.2,236.7 337.5,233.6 337.8,231.3C338.0,230.0 338.2,228.3 338.4,226.0C338.8,220.7 339.2,209.7 339.7,200.0C340.0,192.1 340.3,181.9 340.7,173.3C340.9,168.8 341.0,164.4 341.2,160.0C341.4,156.7 341.5,153.6 341.6,150.3C342.0,140.7 342.4,129.4 342.8,120.7C343.1,113.9 343.4,107.3 343.7,102.3C344.0,97.8 344.3,94.2 344.6,90.7C344.9,86.5 345.3,79.3 345.6,79.3C345.9,79.3 346.2,84.4 346.5,87.3C346.7,89.3 346.9,91.5 347.1,94.0C347.3,96.8 347.5,100.2 347.7,103.7C348.2,110.8 348.6,119.0 349.1,127.3C349.4,132.8 349.6,138.7 349.9,144.7C350.2,149.6 350.4,160.0 350.7,160.0C350.8,160.0 350.9,160.0 351.1,160.0C351.4,160.0 351.6,173.4 351.9,180.0C352.5,191.7 353.0,203.9 353.5,215.0C353.8,221.1 354.1,227.0 354.3,232.7C354.7,239.2 355.0,251.3 355.3,251.3C355.6,251.3 355.9,246.2 356.2,243.3C356.6,239.0 357.0,235.3 357.5,229.3C357.5,228.4 357.6,227.4 357.7,226.0C358.0,218.9 358.4,204.2 358.7,193.3C359.1,182.2 359.4,169.9 359.8,160.0C360.1,152.0 360.4,144.6 360.7,138.0C361.2,127.0 361.6,116.9 362.1,108.3C362.3,105.5 362.4,103.0 362.6,100.7C362.8,97.0 363.1,93.9 363.3,90.7C363.6,86.7 364.0,79.3 364.3,79.3C364.5,79.3 364.8,81.8 365.1,83.3C365.6,86.0 366.0,89.2 366.5,92.7C366.6,93.1 366.6,93.5 366.7,94.0C366.9,95.8 367.1,98.0 367.4,100.0C367.5,101.1 367.6,102.3 367.7,103.3C368.2,107.3 368.7,111.5 369.2,114.0C369.7,116.6 370.2,118.9 370.7,120.0C371.0,120.6 371.3,121.3 371.6,121.3C371.9,121.3 372.1,120.1 372.4,119.3C372.9,117.7 373.5,115.3 374.0,112.7C374.5,110.1 375.0,106.8 375.6,103.3C375.7,102.3 375.9,101.1 376.0,100.0C376.4,97.4 376.8,94.5 377.1,92.0C377.8,87.5 378.4,82.7 379.0,79.3C379.6,76.7 380.1,74.3 380.6,72.7C380.8,71.8 381.1,70.7 381.3,70.7C381.6,70.7 381.9,71.9 382.1,72.7C382.6,74.3 383.1,76.7 383.6,79.3C384.2,82.1 384.7,86.1 385.3,90.0C385.5,92.1 385.8,94.2 386.1,97.0C386.2,97.9 386.3,98.9 386.4,100.0C386.8,104.5 387.1,111.6 387.5,117.3C387.9,123.7 388.3,130.1 388.8,136.0C389.2,142.0 389.6,147.3 390.0,153.3C390.3,157.4 390.6,161.4 390.9,166.0C391.2,172.0 391.6,179.2 392.0,186.0C392.3,192.5 392.7,199.8 393.1,206.0C393.5,212.7 393.8,219.1 394.2,224.7C394.4,227.3 394.6,229.6 394.8,232.0C395.0,234.5 395.2,236.9 395.4,239.3C395.9,245.2 396.4,251.3 396.8,256.7C397.1,260.0 397.4,266.0 397.7,266.0C398.0,266.0 398.3,262.8 398.5,260.7C399.0,257.0 399.4,251.8 399.8,246.0C400.1,242.1 400.4,237.1 400.7,232.0C400.9,229.1 401.1,226.2 401.2,222.7C401.4,218.8 401.6,214.3 401.8,209.3C402.2,197.3 402.6,180.5 403.1,166.0C403.3,159.6 403.5,152.9 403.6,146.7C404.0,134.0 404.4,121.6 404.8,110.0C405.0,104.4 405.2,98.4 405.4,93.7C405.7,84.6 406.1,75.4 406.4,70.0C406.8,64.7 407.1,60.6 407.5,58.0C407.9,55.0 408.3,52.9 408.7,51.3C408.9,50.5 409.1,49.3 409.3,49.3C409.6,49.3 409.9,52.5 410.2,54.0C410.8,57.2 411.4,60.8 412.0,63.3C412.5,65.4 413.0,67.4 413.5,68.7C413.8,69.3 414.0,70.3 414.3,70.3C414.8,70.3 415.4,68.9 416.0,68.0C416.4,67.3 416.9,65.9 417.3,65.3C417.8,64.7 418.2,64.0 418.7,64.0C419.0,64.0 419.3,65.7 419.6,66.7C420.3,68.8 420.9,71.5 421.6,74.0C422.3,76.6 423.0,79.5 423.7,82.0C424.2,83.6 424.6,86.0 425.1,86.7C425.6,87.4 426.1,88.0 426.7,88.0C427.3,88.0 428.0,86.3 428.7,85.3C429.5,84.2 430.3,82.4 431.1,81.3C431.8,80.3 432.6,79.6 433.3,78.7C434.2,77.6 435.1,76.5 436.0,75.3C436.8,74.3 437.5,73.0 438.3,72.0C438.8,71.3 439.4,70.3 440.0,70.0C440.4,69.8 440.9,69.5 441.3,69.5C441.7,69.5 442.0,71.2 442.3,72.3C442.8,74.2 443.4,76.6 443.9,79.3C444.4,81.9 444.9,85.3 445.4,88.7C445.8,91.0 446.1,93.7 446.5,96.3C446.8,98.6 447.1,101.1 447.4,103.3C447.9,107.7 448.5,112.6 449.1,116.0C449.5,118.6 450.0,120.9 450.4,122.7C450.7,123.8 451.0,125.6 451.3,125.6C451.6,125.6 451.9,123.8 452.2,122.7C452.7,120.5 453.3,117.8 453.8,114.7C454.3,112.0 454.8,108.8 455.2,105.3C455.4,103.7 455.7,101.8 455.9,100.0C456.1,97.7 456.4,95.0 456.7,92.7C457.1,89.5 457.4,86.2 457.8,83.3C458.2,80.0 458.7,76.6 459.1,74.0C459.5,71.4 459.9,69.1 460.4,67.3C460.6,66.3 460.8,64.7 461.1,64.7C461.3,64.7 461.5,67.1 461.7,68.7C462.0,71.4 462.3,74.9 462.7,79.3C462.9,82.2 463.1,86.1 463.3,90.0C463.5,93.0 463.7,96.7 463.8,100.0C464.0,102.3 464.1,104.5 464.2,106.7C464.6,114.7 465.0,122.8 465.5,130.7C465.8,136.1 466.1,141.5 466.4,146.7C466.7,153.3 467.1,160.1 467.5,166.0C467.7,169.8 468.0,173.6 468.2,176.7C468.4,178.7 468.5,182.0 468.7,182.0C468.9,182.0 469.1,179.5 469.3,178.0C469.7,174.7 470.1,170.5 470.6,166.0C470.9,162.3 471.3,157.9 471.6,153.3C472.0,148.1 472.4,141.9 472.8,136.0C473.3,129.9 473.7,123.2 474.1,117.3C474.5,111.9 474.8,105.5 475.2,102.0C475.3,101.2 475.4,100.5 475.5,100.0C475.8,97.9 476.2,96.6 476.5,95.3C476.8,94.3 477.1,92.7 477.3,92.7C477.8,92.7 478.2,93.9 478.7,94.7C479.1,95.4 479.6,97.0 480.0,97.3C480.4,97.7 480.9,98.0 481.3,98.0C481.8,98.0 482.2,95.7 482.7,94.7C483.1,93.7 483.6,92.6 484.0,92.0C484.4,91.4 484.9,90.7 485.3,90.7C485.7,90.7 486.1,94.2 486.5,96.7C486.7,97.6 486.8,98.6 486.9,100.0C487.2,102.8 487.5,108.2 487.8,113.3C488.0,118.2 488.3,124.7 488.6,130.7C488.9,139.3 489.3,148.8 489.7,157.7C490.0,165.3 490.3,173.1 490.7,180.3C491.0,188.5 491.4,196.7 491.8,204.0C492.2,212.2 492.6,221.6 493.0,226.7C493.2,228.9 493.3,230.7 493.5,232.0C493.9,235.0 494.4,237.0 494.8,238.7C495.1,239.7 495.3,241.3 495.6,241.3C495.9,241.3 496.2,239.7 496.4,238.7C496.9,237.0 497.3,234.6 497.7,232.0C498.1,229.6 498.5,225.9 498.8,223.3C498.9,222.9 499.0,222.2 499.1,222.0C499.4,221.0 499.7,220.6 500.0,220.3C500.4,220.0 500.7,219.6 501.1,219.6C501.3,219.6 501.5,221.0 501.8,222.0C502.2,223.9 502.7,226.7 503.2,229.7C503.7,232.6 504.1,236.3 504.6,240.0C505.0,243.7 505.5,247.9 505.9,252.0C506.4,256.3 506.9,260.9 507.4,265.3C507.8,269.4 508.3,273.5 508.7,277.3C508.9,279.4 509.1,281.4 509.4,283.3C509.6,285.0 509.8,286.6 510.0,288.0C510.3,290.4 510.6,292.7 511.0,294.7C511.3,296.8 511.7,300.4 512.0,300.4C512.3,300.4 512.6,297.3 512.9,295.3C513.4,292.0 513.9,288.1 514.5,283.3C514.8,280.2 515.2,276.2 515.5,272.0C515.9,267.3 516.3,261.6 516.7,256.0C517.0,251.7 517.3,247.5 517.6,242.7C517.8,239.4 518.0,236.0 518.2,232.0C518.5,226.4 518.8,219.5 519.0,212.7C519.3,206.4 519.6,199.4 519.8,192.7C520.2,183.8 520.5,174.5 520.9,166.0C520.9,165.2 521.0,164.4 521.0,163.7C521.4,153.1 521.9,142.5 522.4,133.3C522.7,127.1 523.0,120.7 523.3,116.0C523.7,110.1 524.1,104.9 524.5,101.3C524.9,97.6 525.3,94.8 525.7,92.7C526.2,89.8 526.8,87.3 527.4,86.0C527.6,85.5 527.8,84.9 528.0,84.9C528.3,84.9 528.6,86.8 528.9,88.0C529.4,90.3 530.0,93.1 530.5,96.3C530.9,98.5 531.3,101.3 531.7,104.0C532.3,108.6 533.0,114.4 533.6,118.7C534.2,122.7 534.8,126.6 535.4,129.3C536.0,132.4 536.7,134.8 537.4,136.7C537.8,137.9 538.2,139.7 538.7,139.7C539.3,139.7 540.0,138.0 540.7,136.7C541.3,135.4 542.0,133.1 542.7,131.3C543.3,129.8 543.9,128.3 544.5,126.7C545.2,125.0 545.8,123.3 546.4,121.3C547.1,119.3 547.7,117.1 548.4,114.7C549.0,112.3 549.6,109.5 550.2,106.7C550.7,104.6 551.1,102.3 551.5,100.0C551.6,99.6 551.7,99.1 551.8,98.7C552.1,96.7 552.5,94.5 552.8,92.7C553.0,91.7 553.1,90.8 553.3,90.0C553.7,88.5 554.0,86.9 554.4,86.0C554.5,85.7 554.6,85.6 554.7,85.3C554.9,84.8 555.1,83.3 555.3,83.3C555.6,83.3 555.8,83.3 556.0,83.3C556.2,83.3 556.4,82.0 556.7,82.0C556.9,82.0 557.1,82.9 557.3,82.9C557.6,82.9 557.8,82.7 558.0,82.7C558.2,82.7 558.4,84.7 558.7,84.7C559.0,84.7 559.3,84.7 559.6,84.7C559.8,84.7 560.0,88.8 560.2,90.7C560.6,94.1 560.9,97.1 561.3,100.0C561.6,102.4 561.9,104.5 562.2,106.7C562.7,110.4 563.2,114.0 563.7,117.3C564.3,121.1 564.9,124.8 565.5,128.0C566.0,131.0 566.5,133.8 567.1,136.0C567.4,137.3 567.7,139.3 568.0,139.3C568.3,139.3 568.6,137.3 568.9,136.0C569.4,133.5 570.0,130.0 570.5,126.7C571.1,123.4 571.7,119.2 572.2,116.0C572.7,113.1 573.2,110.3 573.7,108.0C574.1,106.2 574.5,103.9 574.9,103.3C575.5,102.6 576.1,102.0 576.7,102.0C577.3,102.0 578.0,103.5 578.7,104.7C579.3,105.9 580.0,108.2 580.7,110.0C581.3,111.8 582.0,113.8 582.7,115.3C583.3,116.9 584.0,118.4 584.7,119.3C585.3,120.2 586.0,121.3 586.7,121.3C587.3,121.3 588.0,120.6 588.7,120.0C589.3,119.4 590.0,118.1 590.7,117.3C591.3,116.6 592.0,115.3 592.7,115.3C593.3,115.3 594.0,116.1 594.7,116.7C595.3,117.3 596.0,118.2 596.7,119.3C597.3,120.4 598.0,122.4 598.6,124.0C599.3,125.7 600.0,127.6 600.7,129.3C601.4,130.9 602.0,133.0 602.7,134.0C603.3,135.0 604.0,136.3 604.7,136.3C605.3,136.3 606.0,136.1 606.7,136.0C607.3,135.9 608.0,135.3 608.7,135.3C608.9,135.3 609.2,136.5 609.4,137.3C609.9,138.9 610.4,141.3 610.9,144.0C611.5,147.2 612.1,151.9 612.7,156.7C613.1,159.6 613.4,162.8 613.8,166.7C614.0,168.9 614.2,171.6 614.4,174.3C614.9,180.5 615.4,189.0 615.9,194.7C616.3,199.3 616.7,203.8 617.0,206.7C617.5,210.1 618.0,212.7 618.4,214.7C618.9,216.9 619.5,218.5 620.0,220.0C620.4,221.3 620.9,222.3 621.3,223.3C621.7,224.3 622.1,224.9 622.5,226.0C623.0,227.4 623.5,229.1 624.0,231.3C624.5,233.4 625.0,236.2 625.4,239.3C625.8,241.9 626.2,245.3 626.6,248.7C627.0,251.9 627.3,255.7 627.7,259.3C628.1,263.2 628.5,267.3 628.9,271.3C629.3,274.9 629.7,278.5 630.0,282.0C630.4,285.3 630.7,288.7 631.0,292.0C631.5,296.4 631.9,301.0 632.4,305.3C632.9,309.9 633.3,314.6 633.8,318.7C634.4,324.0 635.1,329.2 635.7,333.3C636.2,336.9 636.8,340.4 637.3,342.7C637.9,345.2 638.5,347.4 639.1,348.7C639.5,349.5 639.9,350.7 640.3,350.7C640.6,350.7 640.9,348.2 641.2,346.7C641.7,343.6 642.3,339.3 642.9,334.7C643.4,330.5 643.9,325.0 644.4,320.0C644.9,315.6 645.4,310.9 645.8,306.7C646.2,302.9 646.6,299.2 647.0,296.0C647.2,294.5 647.4,293.2 647.6,292.0C648.0,289.3 648.5,286.5 648.9,284.7C649.3,283.0 649.6,281.4 650.0,280.7C650.2,280.2 650.5,279.7 650.7,279.7C650.9,279.7 651.1,280.7 651.4,281.3C651.8,282.5 652.2,284.0 652.7,286.0C653.0,287.5 653.4,289.5 653.7,292.0C654.1,294.7 654.4,298.7 654.8,302.7C655.2,307.3 655.6,313.4 656.1,318.7C656.5,324.5 657.0,330.6 657.5,336.0C657.9,340.7 658.3,345.3 658.7,349.3C659.0,352.5 659.3,355.8 659.6,358.0C659.8,359.6 660.1,361.0 660.3,362.0C660.5,363.0 660.7,364.4 660.9,364.4C661.2,364.4 661.5,362.9 661.8,362.0C662.1,360.9 662.4,359.5 662.7,358.0C663.3,355.3 663.8,351.4 664.4,348.0C664.9,344.9 665.4,341.6 666.0,338.7C666.3,336.6 666.7,332.7 667.1,332.7C667.3,332.7 667.6,333.9 667.8,334.7C668.3,336.3 668.9,338.7 669.4,341.3C670.0,344.6 670.6,349.4 671.3,353.7C671.6,356.1 672.0,359.0 672.3,361.3C672.9,365.0 673.5,368.6 674.1,371.3C674.6,374.0 675.2,376.1 675.7,378.0C676.3,379.8 676.8,381.9 677.3,382.7C678.0,383.7 678.7,384.7 679.3,384.7C680.0,384.7 680.7,384.6 681.3,384.4C682.0,384.2 682.7,383.3 683.3,382.7C684.0,382.0 684.7,381.0 685.3,380.7C686.0,380.3 686.7,380.3 687.3,380.0C687.9,379.7 688.5,379.4 689.1,378.7C689.4,378.2 689.8,376.6 690.1,375.3C690.6,373.8 691.1,372.0 691.5,370.0C692.0,368.1 692.4,365.9 692.9,363.3C693.1,361.8 693.4,360.0 693.7,358.0C694.0,355.5 694.3,352.3 694.7,349.3C695.1,345.4 695.5,340.9 696.0,337.3C696.3,334.9 696.6,332.4 696.9,330.7C697.0,329.9 697.2,329.2 697.3,328.7C697.5,327.9 697.7,327.3 697.9,326.7C698.2,325.9 698.4,325.2 698.7,324.7C698.8,324.4 698.9,324.1 699.1,324.0C699.6,323.6 700.0,323.3 700.5,323.3C701.1,323.3 701.6,324.2 702.1,324.4C702.7,324.6 703.3,324.8 703.9,324.8C704.4,324.8 704.8,324.0 705.3,323.3C705.5,323.2 705.6,322.9 705.7,322.7C706.2,321.8 706.7,320.4 707.2,319.7C707.6,319.0 708.1,318.2 708.5,318.1C709.0,318.1 709.4,318.0 709.9,318.0C710.2,318.0 710.4,320.1 710.7,321.3C711.2,323.4 711.7,325.8 712.1,328.7C712.5,330.7 712.8,333.4 713.1,336.0C714.0,342.6 714.8,352.3 715.6,358.0C715.9,360.1 716.2,362.0 716.5,363.3C717.1,365.6 717.6,367.2 718.1,368.7C718.5,369.8 718.9,371.6 719.3,371.6C719.9,371.6 720.5,371.2 721.1,370.7C721.6,370.2 722.1,368.5 722.7,367.3C723.2,366.1 723.7,364.6 724.3,363.3C724.8,361.9 725.4,360.4 726.0,359.3C727.3,356.8 728.7,353.3 730.0,353.3C730.7,353.3 731.3,353.6 732.0,353.6C732.4,353.6 732.9,353.2 733.3,352.7C733.7,352.3 734.0,350.6 734.3,349.3C734.8,347.4 735.3,345.2 735.8,342.7C736.2,340.7 736.6,336.0 736.9,336.0C737.1,336.0 737.2,336.0 737.3,336.0C737.6,336.0 737.9,328.9 738.1,326.0C738.5,321.9 738.9,318.2 739.3,315.3C739.8,311.6 740.3,308.4 740.8,306.0C741.1,304.7 741.3,302.9 741.6,302.7C742.0,302.2 742.5,302.0 742.9,302.0C743.3,302.0 743.6,303.7 743.9,304.7C744.5,306.3 745.1,308.2 745.7,310.0C746.1,311.5 746.6,313.6 747.1,314.7C747.6,315.9 748.1,316.7 748.7,317.3C749.3,318.2 750.0,318.9 750.7,319.3C751.3,319.8 752.0,319.9 752.7,320.4C753.2,320.8 753.7,321.6 754.3,322.7C754.7,323.6 755.2,325.8 755.7,327.3C756.2,329.3 756.8,331.3 757.4,333.3C757.6,334.2 757.9,335.2 758.1,336.0C758.4,337.2 758.8,338.4 759.1,339.3C759.4,340.2 759.7,341.5 760.0,341.6C760.5,341.9 761.1,342.0 761.6,342.0C762.2,342.0 762.8,341.0 763.3,340.7C763.9,340.4 764.4,340.0 764.9,340.0C765.2,340.0 765.5,341.2 765.8,342.0C766.3,343.5 766.8,345.7 767.4,348.0C767.9,350.3 768.4,353.3 768.9,356.0C769.4,358.6 769.9,361.6 770.4,364.0C770.9,366.4 771.4,368.8 771.9,370.7C772.3,371.9 772.6,373.6 772.9,374.0C773.4,374.5 773.8,374.9 774.3,374.9C774.7,374.9 775.2,374.1 775.6,373.3C776.0,372.6 776.5,371.0 776.9,370.0C777.4,369.0 777.8,367.7 778.3,367.3C778.5,367.1 778.8,366.9 779.1,366.9C779.4,366.9 779.7,368.5 780.0,369.3C780.5,371.0 781.1,372.9 781.7,374.7C782.2,376.2 782.7,377.9 783.2,379.3C783.7,380.8 784.2,382.3 784.7,383.3C785.2,384.4 785.7,385.5 786.3,386.0C786.8,386.5 787.4,387.1 788.0,387.1C788.7,387.1 789.3,386.6 790.0,386.4C790.7,386.2 791.3,385.8 792.0,385.6C792.7,385.4 793.3,384.9 794.0,384.9C794.7,384.9 795.3,384.9 796.0,384.9C796.6,384.9 797.2,385.5 797.7,386.0C798.3,386.5 798.8,388.7 799.3,388.7C799.6,388.7 799.8,388.5 800.0,388.5C800.3,388.5 800.6,392.0 800.9,392.0C801.1,392.0 801.3,392.0 801.5,392.0C801.9,392.0 802.4,394.3 802.8,395.0C803.4,395.7 803.9,396.3 804.4,396.7C804.6,396.8 804.8,396.9 805.0,397.0C805.4,397.2 805.8,397.5 806.3,397.6C806.7,397.7 807.1,397.8 807.5,397.8C807.7,397.8 807.8,397.4 808.0,397.3C808.5,397.2 809.1,397.1 809.6,397.1C810.2,397.1 810.8,397.6 811.4,397.8C812.1,398.1 812.7,398.2 813.3,398.7C813.6,398.8 813.8,399.4 814.0,399.5C814.4,399.6 814.9,399.6 815.3,399.7C815.7,399.8 816.1,400.4 816.5,400.5C816.8,400.6 817.1,400.6 817.3,400.7C817.9,400.8 818.6,401.1 819.2,401.1C819.9,401.2 820.7,401.2 821.5,401.2C821.7,401.2 821.8,401.1 822.0,401.1C822.7,401.1 823.3,402.2 824.0,402.2C824.2,402.2 824.4,402.0 824.7,402.0C825.3,402.0 825.9,403.3 826.5,404.0C827.2,404.7 827.8,405.4 828.5,406.2C829.2,407.0 829.8,408.0 830.5,409.0C831.2,410.0 831.8,411.1 832.5,412.0C833.2,412.9 833.8,413.8 834.5,414.5C835.3,415.4 836.2,416.1 837.0,416.7C837.8,417.3 838.7,417.7 839.5,418.2C840.3,418.7 841.2,419.1 842.0,419.5C842.8,419.9 843.7,420.5 844.5,420.8C845.3,421.1 846.2,421.5 847.0,421.5C847.8,421.5 848.7,421.5 849.5,421.5C850.3,421.5 851.2,421.2 852.0,421.2C852.8,421.2 853.7,421.5 854.5,421.8C855.3,422.1 856.2,422.6 857.0,423.0C857.8,423.4 858.7,423.9 859.5,424.2C860.3,424.5 861.2,424.8 862.0,425.0C862.8,425.2 863.7,425.4 864.5,425.5C865.2,425.6 865.8,425.7 866.5,425.8"/>
</g>
<rect x="68.5" y="35.5" width="820" height="391" fill="none" stroke="#5f5f5f" stroke-width="1" shape-rendering="crispEdges"/>
<g stroke="#b6b6b6" stroke-width="1" shape-rendering="crispEdges">
<line x1="64.5" y1="35" x2="64.5" y2="427"/>
<line x1="68" y1="430.5" x2="889" y2="430.5"/>
<line x1="62" y1="426.5" x2="64" y2="426.5"/>
<line x1="62" y1="406.5" x2="64" y2="406.5"/>
<line x1="62" y1="387.5" x2="64" y2="387.5"/>
<line x1="62" y1="368.5" x2="64" y2="368.5"/>
<line x1="62" y1="349.5" x2="64" y2="349.5"/>
<line x1="62" y1="330.5" x2="64" y2="330.5"/>
<line x1="62" y1="311.5" x2="64" y2="311.5"/>
<line x1="62" y1="292.5" x2="64" y2="292.5"/>
<line x1="62" y1="273.5" x2="64" y2="273.5"/>
<line x1="62" y1="254.5" x2="64" y2="254.5"/>
<line x1="62" y1="234.5" x2="64" y2="234.5"/>
<line x1="62" y1="215.5" x2="64" y2="215.5"/>
<line x1="62" y1="196.5" x2="64" y2="196.5"/>
<line x1="62" y1="177.5" x2="64" y2="177.5"/>
<line x1="62" y1="158.5" x2="64" y2="158.5"/>
<line x1="62" y1="139.5" x2="64" y2="139.5"/>
<line x1="62" y1="120.5" x2="64" y2="120.5"/>
<line x1="62" y1="101.5" x2="64" y2="101.5"/>
<line x1="62" y1="82.5" x2="64" y2="82.5"/>
<line x1="62" y1="62.5" x2="64" y2="62.5"/>
<line x1="62" y1="43.5" x2="64" y2="43.5"/>
<line x1="121.5" y1="431" x2="121.5" y2="433"/>
<line x1="195.5" y1="431" x2="195.5" y2="433"/>
<line x1="270.5" y1="431" x2="270.5" y2="433"/>
<line x1="344.5" y1="431" x2="344.5" y2="433"/>
<line x1="419.5" y1="431" x2="419.5" y2="433"/>
<line x1="493.5" y1="431" x2="493.5" y2="433"/>
<line x1="568.5" y1="431" x2="568.5" y2="433"/>
<line x1="642.5" y1="431" x2="642.5" y2="433"/>
<line x1="717.5" y1="431" x2="717.5" y2="433"/>
<line x1="791.5" y1="431" x2="791.5" y2="433"/>
<line x1="866.5" y1="431" x2="866.5" y2="433"/>
</g>
<g class="tk" text-anchor="end">
<text x="58" y="431">0.00</text>
<text x="58" y="412">0.05</text>
<text x="58" y="393">0.10</text>
<text x="58" y="374">0.15</text>
<text x="58" y="355">0.20</text>
<text x="58" y="335">0.25</text>
<text x="58" y="316">0.30</text>
<text x="58" y="297">0.35</text>
<text x="58" y="278">0.40</text>
<text x="58" y="259">0.45</text>
<text x="58" y="240">0.50</text>
<text x="58" y="221">0.55</text>
<text x="58" y="202">0.60</text>
<text x="58" y="183">0.65</text>
<text x="58" y="164">0.70</text>
<text x="58" y="144">0.75</text>
<text x="58" y="125">0.80</text>
<text x="58" y="106">0.85</text>
<text x="58" y="87">0.90</text>
<text x="58" y="68">0.95</text>
<text x="58" y="49">1.00</text>
</g>
<g class="tk" text-anchor="middle">
<text x="120.9" y="446">08:00</text>
<text x="194.9" y="446">09:00</text>
<text x="269.9" y="446">10:00</text>
<text x="343.9" y="446">11:00</text>
<text x="418.9" y="446">12:00</text>
<text x="492.9" y="446">13:00</text>
<text x="567.9" y="446">14:00</text>
<text x="641.9" y="446">15:00</text>
<text x="716.9" y="446">16:00</text>
<text x="790.9" y="446">17:00</text>
<text x="865.9" y="446">18:00</text>
</g>
<text class="ax" text-anchor="middle" style="letter-spacing:-.5px" x="477.9" y="465">time</text>
<text class="ax" text-anchor="middle" style="letter-spacing:.75px" transform="translate(25.3,230.3) rotate(-90)">Watt/Wp</text>
<text class="tt" text-anchor="middle" x="450" y="21">2-3-2017</text>
<rect x="121.5" y="477.5" width="657" height="21" fill="#ffffff" stroke="#000" stroke-width="1" shape-rendering="crispEdges"/>
<line x1="124" y1="487.7" x2="140" y2="487.7" stroke="#cc00cc" stroke-width="2"/><circle cx="132" cy="487.5" r="1.5" fill="#cc00cc"/>
<text class="lg" x="142" y="492.5" style="white-space:pre">SB3000TL-20-SN2100578613<tspan style="letter-spacing:-.04px">_21panels(</tspan><tspan style="letter-spacing:.44px"> 13.553 kWh )</tspan></text>
<line x1="452" y1="487.7" x2="468" y2="487.7" stroke="#0033cc" stroke-width="2"/><circle cx="460" cy="487.5" r="1.5" fill="#0033cc"/>
<text class="lg" x="470" y="492.5" style="white-space:pre">SB3000TL-21-SN2130032031<tspan style="letter-spacing:-.04px">_19panels(</tspan><tspan style="letter-spacing:.44px"> 12.776 kWh )</tspan></text>
</svg></body></html>
